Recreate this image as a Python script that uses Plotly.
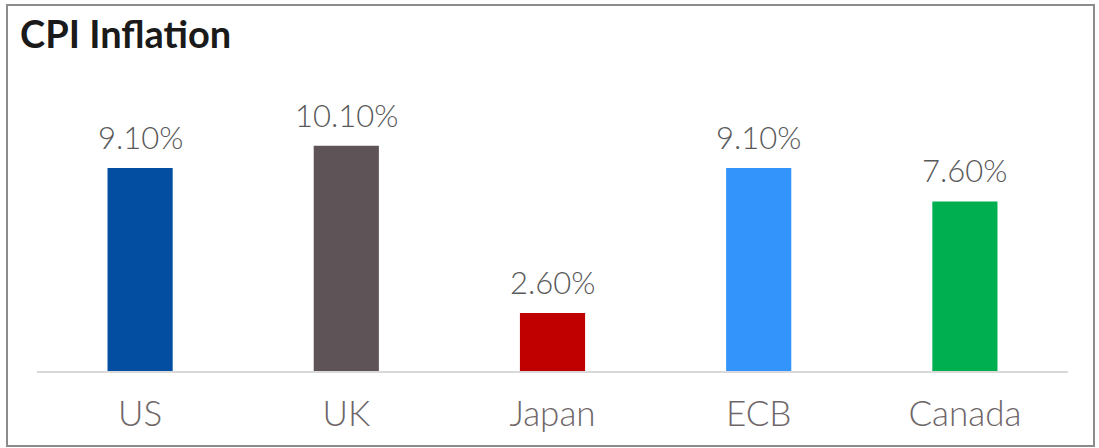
import plotly.graph_objects as go

categories = ["US", "UK", "Japan", "ECB", "Canada"]
values = [9.1, 10.1, 2.6, 9.1, 7.6]
labels = ["9.10%", "10.10%", "2.60%", "9.10%", "7.60%"]
colors = ["#044EA2", "#5E5457", "#C00000", "#3395FB", "#00AF50"]

fig = go.Figure(go.Bar(
    x=categories, y=values, marker_color=colors, marker_line_width=0,
    hoverinfo="skip",
))

for c, v, t in zip(categories, values, labels):
    fig.add_annotation(x=c, y=v, text=t, showarrow=False, yanchor="bottom",
                       yshift=10, font=dict(family="Lato", size=31, weight=300,
                                            color="#595959"))

fig.update_layout(
    width=1099, height=448,
    margin=dict(l=37, r=31, t=60, b=77),
    paper_bgcolor="white", plot_bgcolor="rgba(0,0,0,0)",
    bargap=0.684, showlegend=False,
    title=dict(text="<b>CPI Inflation</b>", x=20/1099, xref="container", xanchor="left",
               y=0.952, yanchor="top", pad=dict(l=0),
               font=dict(family="Lato", size=38, color="#1a1a1a")),
    xaxis=dict(showgrid=False, showline=True, linecolor="#D9D9D9", linewidth=2,
               ticks="", tickfont=dict(family="Lato", size=35, weight=300, color="#6E6668"),
               ticklabelstandoff=11),
    yaxis=dict(range=[0, 13.94], visible=False, showgrid=False, zeroline=False),
)

fig.add_shape(type="rect", xref="paper", yref="paper",
              x0=-30/1031, x1=(1094-37)/1031, y0=-(446-371)/311, y1=(371-5)/311,
              line=dict(color="#8C8C8C", width=2), layer="below")

fig.write_html("out.html")
